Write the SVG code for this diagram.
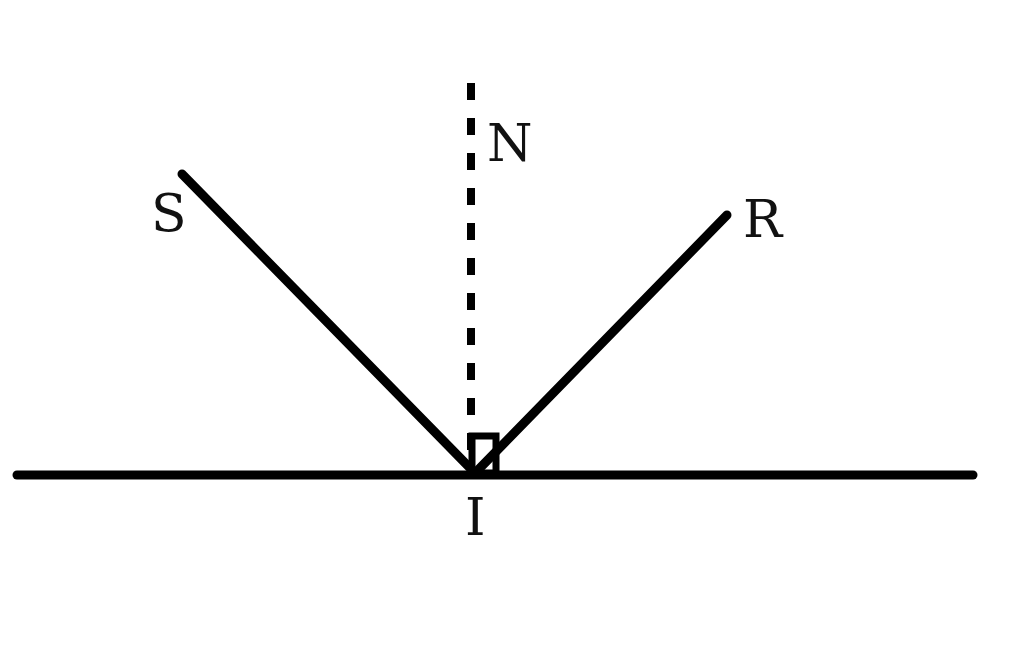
<svg xmlns="http://www.w3.org/2000/svg" width="1024" height="658" viewBox="0 0 1024 658">
<style>
.ln{stroke:#000;stroke-width:9;stroke-linecap:round;fill:none}
.lb{font-family:"DejaVu Serif","Liberation Serif",serif;font-size:52px;fill:#111}
</style>
<rect width="1024" height="658" fill="#fff"/>
<g id="connectors">
<line class="ln" x1="17" y1="475" x2="973" y2="475"/>
<line class="ln" x1="182" y1="174" x2="472" y2="470"/>
<line class="ln" x1="727" y1="215" x2="478" y2="470"/>
<line x1="471" y1="83" x2="471" y2="465" stroke="#000" stroke-width="8" stroke-dasharray="17,18"/>
<rect x="472" y="436" width="24" height="37" fill="none" stroke="#000" stroke-width="7"/>
</g>
<g id="N"><text class="lb" x="487" y="161">N</text></g>
<g id="S"><text class="lb" x="151" y="231">S</text></g>
<g id="R"><text class="lb" x="743" y="237">R</text></g>
<g id="I"><text class="lb" x="465" y="535">I</text></g>
</svg>
